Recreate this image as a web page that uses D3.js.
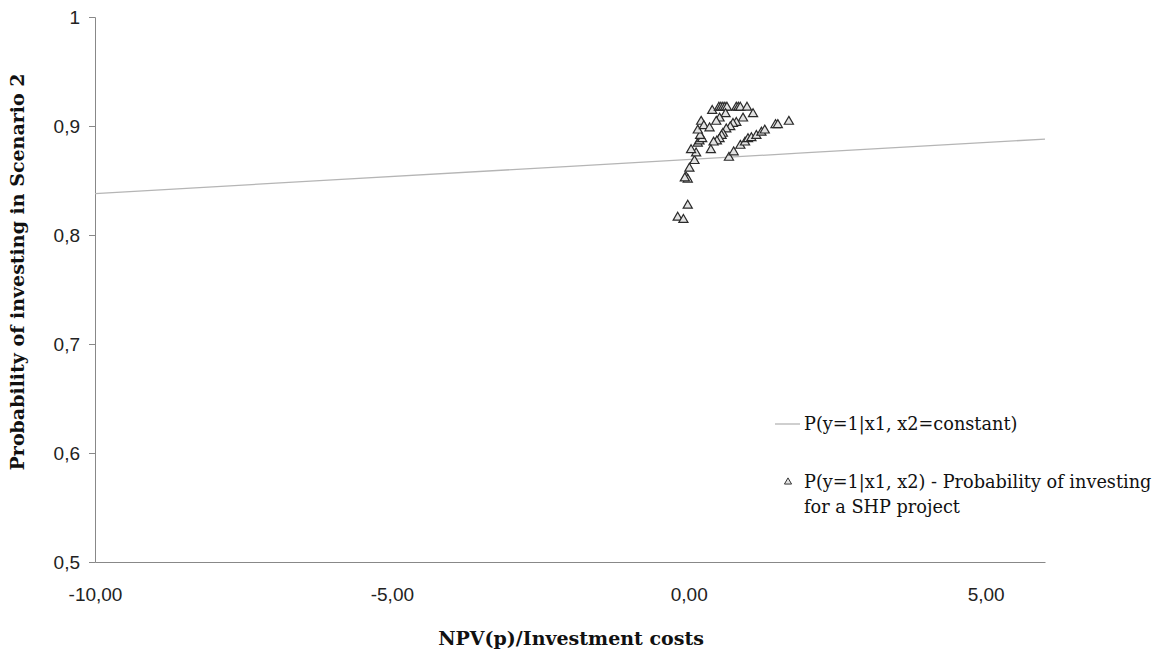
<!DOCTYPE html>
<html>
<head>
<meta charset="utf-8">
<script src="https://cdn.jsdelivr.net/npm/d3@7"></script>
<style>
  body { margin: 0; background: #fff; }
  .tick text { font-family: "Liberation Sans Narrow", "Arial Narrow", "Liberation Sans", sans-serif; font-size: 19px; fill: #222; }
  .title { font-family: "DejaVu Serif", "Liberation Serif", serif; font-weight: bold; font-size: 19px; fill: #111; }
  .leg { font-family: "DejaVu Serif", "Liberation Serif", serif; font-size: 17.7px; fill: #111; }
</style>
</head>
<body>
<div id="chart"></div>
<script>
// fitted curve P(y=1|x1, x2=constant)
const lineX = [-10, -6, -2, 2, 6];
const lineY = [0.838, 0.8505, 0.863, 0.8755, 0.888];

// observed projects P(y=1|x1, x2)
const ptX = [-0.186, -0.090, -0.017, -0.045, -0.017, -0.066, 0.011, 0.096, 0.124, 0.039,
  0.152, 0.180, 0.226, 0.192, 0.152, 0.209, 0.254, 0.350, 0.395, 0.508,
  0.541, 0.575, 0.609, 0.643, 0.620, 0.519, 0.463, 0.801, 0.835, 0.868,
  0.981, 1.083, 0.914, 0.801, 0.745, 0.699, 0.632, 0.575, 0.553, 0.519,
  0.474, 0.418, 0.372, 0.677, 0.756, 0.869, 0.948, 0.998, 1.055, 1.139,
  1.224, 1.280, 1.461, 1.500, 1.686];
const ptY = [0.816, 0.814, 0.827, 0.853, 0.851, 0.852, 0.861, 0.868, 0.875, 0.878,
  0.884, 0.886, 0.888, 0.891, 0.896, 0.904, 0.900, 0.898, 0.914, 0.917,
  0.917, 0.917, 0.917, 0.917, 0.911, 0.907, 0.904, 0.917, 0.917, 0.917,
  0.917, 0.911, 0.907, 0.903, 0.902, 0.899, 0.897, 0.893, 0.891, 0.888,
  0.886, 0.885, 0.878, 0.871, 0.876, 0.882, 0.885, 0.888, 0.889, 0.891,
  0.894, 0.896, 0.901, 0.901, 0.904];

const xTicks = [-10, -5, 0, 5];
const yTicks = [0.5, 0.6, 0.7, 0.8, 0.9, 1];

const W = 1159, H = 654;
const svg = d3.select('#chart').append('svg').attr('width', W).attr('height', H);

const x = d3.scaleLinear().domain([-10, 6]).range([95, 1045]);
const y = d3.scaleLinear().domain([0.5, 1]).range([562, 17]);
const comma = v => String(v).replace('.', ',');

// y axis
const ya = svg.append('g').attr('transform', 'translate(95,0)')
  .call(d3.axisLeft(y).tickValues(yTicks).tickSize(6).tickPadding(9).tickFormat(comma));
ya.select('.domain').attr('stroke', '#888');
ya.selectAll('.tick line').attr('stroke', '#888');

// x axis
const xa = svg.append('g').attr('transform', 'translate(0,562)')
  .call(d3.axisBottom(x).tickValues(xTicks).tickSize(0).tickPadding(26)
    .tickFormat(v => comma(v.toFixed(2))));
xa.select('.domain').attr('stroke', '#888');

// curve
svg.append('path').datum(lineX.map((v, i) => [v, lineY[i]]))
  .attr('fill', 'none').attr('stroke', '#b5b5b5').attr('stroke-width', 1.3)
  .attr('d', d3.line().x(d => x(d[0])).y(d => y(d[1])));

// points
const tri = d3.symbol().type(d3.symbolTriangle).size(36);
svg.append('g').selectAll('path').data(ptX.map((v, i) => [v, ptY[i]])).join('path')
  .attr('transform', d => `translate(${x(d[0])},${y(d[1])})`)
  .attr('d', tri).attr('fill', '#e2e2e2').attr('stroke', '#2a2a2a').attr('stroke-width', 1.2);

// titles
svg.append('text').attr('class', 'title').attr('text-anchor', 'middle')
  .attr('x', 571).attr('y', 645).text('NPV(p)/Investment costs');
svg.append('text').attr('class', 'title').attr('text-anchor', 'middle')
  .attr('transform', 'translate(24,272) rotate(-90)').text('Probability of investing in Scenario 2');

// legend
svg.append('line').attr('x1', 775).attr('x2', 800).attr('y1', 424).attr('y2', 424)
  .attr('stroke', '#b5b5b5').attr('stroke-width', 1.3);
svg.append('text').attr('class', 'leg').attr('x', 804).attr('y', 430).text('P(y=1|x1, x2=constant)');
svg.append('path').attr('transform', 'translate(788,482)')
  .attr('d', d3.symbol().type(d3.symbolTriangle).size(22)).attr('fill', '#e2e2e2').attr('stroke', '#333');
svg.append('text').attr('class', 'leg').attr('x', 804).attr('y', 488).text('P(y=1|x1, x2) - Probability of investing');
svg.append('text').attr('class', 'leg').attr('x', 804).attr('y', 513).text('for a SHP project');
</script>
</body>
</html>
